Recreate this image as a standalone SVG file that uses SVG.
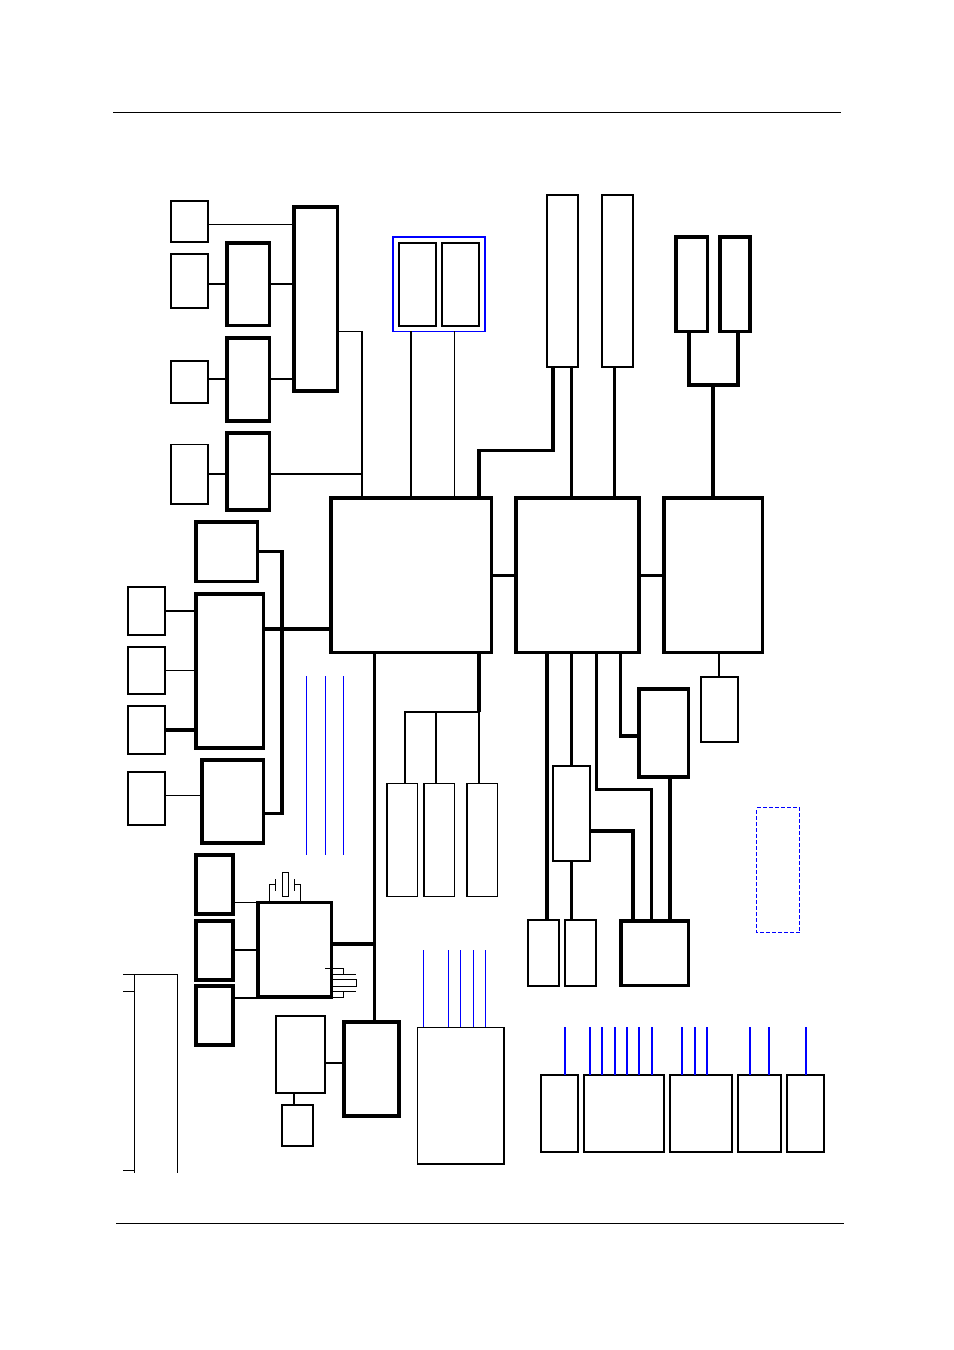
<svg xmlns="http://www.w3.org/2000/svg" width="954" height="1350" viewBox="0 0 954 1350">
<style>
rect,path{shape-rendering:crispEdges}
rect{fill:#fff;stroke:#000}
path{fill:none;stroke:#000}
.s1{stroke-width:1}.s15{stroke-width:1.5}.s2{stroke-width:2}.s3{stroke-width:3}.s35{stroke-width:3.5}.s4{stroke-width:4}
.b{stroke:#00f}
.d{stroke-dasharray:4 2}
</style>
<g id="n1"><rect class="s2" x="171" y="201" width="37" height="41"/></g>
<g id="n2"><rect class="s2" x="171" y="254" width="37" height="54"/></g>
<g id="n3"><rect class="s2" x="171" y="361" width="37" height="42"/></g>
<g id="n4"><rect class="s15" x="171" y="444.500" width="37" height="59.500"/></g>
<g id="n5"><rect class="s35" x="227" y="243" width="42.500" height="82.500"/></g>
<g id="n6"><rect class="s35" x="227" y="338" width="42.500" height="83"/></g>
<g id="n7"><rect class="s35" x="227" y="433" width="42.500" height="77"/></g>
<g id="n8"><rect class="s35" x="294" y="207" width="43.500" height="184"/></g>
<g id="n9"><rect class="s15 b" x="393" y="237" width="92" height="94.500" style="fill:none"/></g>
<g id="n10"><rect class="s2" x="399" y="243" width="37" height="83"/></g>
<g id="n11"><rect class="s2" x="442" y="243" width="37" height="83"/></g>
<g id="n12"><rect class="s2" x="547" y="195" width="31" height="172"/></g>
<g id="n13"><rect class="s2" x="602" y="195" width="31" height="172"/></g>
<g id="n14"><rect class="s35" x="676" y="237" width="31.500" height="94.500"/></g>
<g id="n15"><rect class="s35" x="720" y="237" width="30" height="94.500"/></g>
<g id="n16"><rect class="s35" x="331" y="498" width="160.500" height="154.500"/></g>
<g id="n17"><rect class="s35" x="516" y="498" width="122.800" height="154.500"/></g>
<g id="n18"><rect class="s35" x="664" y="498" width="98.300" height="154.500"/></g>
<g id="n19"><rect class="s35" x="196" y="522" width="61.500" height="59.500"/></g>
<g id="n20"><rect class="s35" x="196" y="594" width="67.500" height="154"/></g>
<g id="n21"><rect class="s35" x="202" y="760" width="61.500" height="83"/></g>
<g id="n22"><rect class="s2" x="128" y="587" width="37" height="48"/></g>
<g id="n23"><rect class="s2" x="128" y="647" width="37" height="47"/></g>
<g id="n24"><rect class="s2" x="128" y="706" width="37" height="48"/></g>
<g id="n25"><rect class="s2" x="128" y="772" width="37" height="53"/></g>
<g id="n26"><rect class="s15" x="387" y="783.500" width="30.500" height="113"/></g>
<g id="n27"><rect class="s15" x="424" y="783.500" width="30.500" height="113"/></g>
<g id="n28"><rect class="s15" x="467" y="783.500" width="30.500" height="113"/></g>
<g id="n29"><rect class="s35" x="639" y="689" width="49.500" height="88"/></g>
<g id="n30"><rect class="s2" x="701" y="677" width="37" height="65"/></g>
<g id="n31"><rect class="s2" x="553" y="766" width="37" height="95"/></g>
<g id="n32"><rect class="s2" x="528" y="920" width="31" height="66"/></g>
<g id="n33"><rect class="s2" x="565" y="920" width="31" height="66"/></g>
<g id="n34"><rect class="s35" x="621" y="921" width="67.500" height="64.500"/></g>
<g id="n35"><rect class="s1 b d" x="756.500" y="807.500" width="43" height="125"/></g>
<g id="n36"><rect class="s4" x="196" y="855" width="37" height="59"/></g>
<g id="n37"><rect class="s4" x="196" y="921" width="37" height="59"/></g>
<g id="n38"><rect class="s4" x="196" y="986" width="37" height="59"/></g>
<g id="n39"><rect class="s35" x="258" y="902.500" width="73.500" height="94.500"/></g>
<g id="n40"><rect class="s1" x="282.500" y="872.500" width="6" height="24"/></g>
<g id="n41"><rect class="s1" x="332.500" y="979.500" width="24" height="6.500"/></g>
<g id="n42"><rect class="s4" x="344" y="1022" width="55" height="94"/></g>
<g id="n43"><rect class="s15" x="276" y="1016" width="49" height="77"/></g>
<g id="n44"><rect class="s2" x="282" y="1105" width="31" height="41"/></g>
<g id="n45"><rect class="s15" x="417.500" y="1027.500" width="86.500" height="136.500"/></g>
<g id="n46"><rect class="s2" x="541" y="1075" width="37" height="77"/></g>
<g id="n47"><rect class="s2" x="584" y="1075" width="80" height="77"/></g>
<g id="n48"><rect class="s2" x="670" y="1075" width="62" height="77"/></g>
<g id="n49"><rect class="s2" x="738" y="1075" width="43" height="77"/></g>
<g id="n50"><rect class="s2" x="787" y="1075" width="37" height="77"/></g>
<g id="connectors">
<path class="s1" d="M113 112.500H841M116 1223.500H844"/>
<path class="s1" d="M208 224.500H294M338 331.500H362"/>
<path class="s2" d="M362 331V498M270 474H362"/>
<path class="s2" d="M208 284H227M270 284H294M208 379H227M270 379H294M208 474H227"/>
<path class="s2" d="M411 331V498"/><path class="s1" d="M454.500 331V498"/>
<path class="s4" d="M479 498V452M553 452V367"/>
<path class="s3" d="M477 450.500H555M571.500 367V498M614.500 367V498"/>
<path class="s4" d="M689 332V385H738V332M713 385V498"/>
<path class="s3" d="M491 575.500H516"/>
<path class="s3" d="M639 575.500H664"/>
<path class="s3" d="M258 551.500H284M264 813.500H284"/>
<path class="s4" d="M282 551V815M264 629H331"/>
<path class="s2" d="M165 611H196"/>
<path class="s1" d="M165 670.500H196M165 795.500H202"/>
<path class="s4" d="M165 730H196"/>
<path class="s1 b" d="M306.500 676V855M325.500 676V855M343.500 676V855"/>
<path class="s3" d="M374.500 653V1021"/>
<path class="s4" d="M479 653V712"/>
<path class="s2" d="M405 784V712H479V784M436 712V784"/>
<path class="s4" d="M547 653V920"/>
<path class="s3" d="M571.500 653V766M596.500 653V789.500H651.500V920M620.500 653V736"/>
<path class="s4" d="M619 736H638"/>
<path class="s2" d="M719 653V677"/>
<path class="s3" d="M571.500 861V920"/>
<path class="s4" d="M590 831H633V920M670 777V920"/>
<path class="s1" d="M233 902.500H258"/>
<path class="s2" d="M233 950H258M233 998H258M326 1063H344M294 1093V1105"/>
<path class="s4" d="M331 944H375"/>
<path class="s1" d="M269.500 903V884.500H275.500M275.500 879V891M300.500 903V884.500H294.500M294.500 879V891"/>
<path class="s1" d="M325 968.500H343.500V974.500M333 974.500H356M333 991.500H356M343.500 991.500V997.500H332"/>
<path class="s1 b" d="M423.500 950V1027M448.500 950V1027M460.500 950V1027M473.500 950V1027M485.500 950V1027"/>
<path class="s2 b" d="M565 1027V1075M590 1027V1075M602 1027V1075M615 1027V1075M627 1027V1075M639 1027V1075M652 1027V1075M682 1027V1075M695 1027V1075M707 1027V1075M750 1027V1075M769 1027V1075M806 1027V1075"/>
<path class="s1" d="M123 974.500H177.500V1173M134.500 974.500V1173M123 991.500H134.500M123 1170.500H134.500"/>
</g>
</svg>
